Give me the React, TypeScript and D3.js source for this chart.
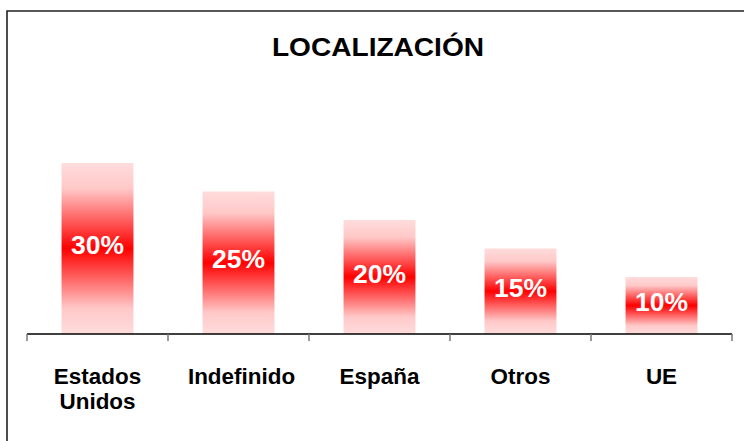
import React from "react";
import * as d3 from "d3";

const categories: string[][] = [["Estados", "Unidos"], ["Indefinido"], ["España"], ["Otros"], ["UE"]];
const values: number[] = [30, 25, 20, 15, 10];
const labels: string[] = ["30%", "25%", "20%", "15%", "10%"];
const title = "LOCALIZACIÓN";

const W = 744, H = 441;
const axisLeft = 27, axisRight = 732, axisY = 334;
const font = "'Liberation Sans', Arial, sans-serif";

export default function App() {
  const x = d3.scaleBand<number>().domain(d3.range(values.length)).range([axisLeft, axisRight]).paddingInner(0.49).paddingOuter(0.245);
  const y = d3.scaleLinear().domain([0, 30]).range([axisY, 163]);
  const step = (axisRight - axisLeft) / values.length;
  const ticks = d3.range(values.length + 1).map(i => axisLeft + i * step);
  return (
    <svg width={W} height={H} style={{ position: "absolute", left: 0, top: 0, background: "#fff" }}>
      <defs>
        <linearGradient id="barGrad" x1="0" y1="0" x2="0" y2="1">
          <stop offset="0" stopColor="#FFDCDC" />
          <stop offset="0.15" stopColor="#FFC8C8" />
          <stop offset="0.5" stopColor="#FF0000" />
          <stop offset="0.85" stopColor="#FFC8C8" />
          <stop offset="1" stopColor="#FFDCDC" />
        </linearGradient>
      </defs>
      <rect x={0} y={0} width={W} height={H} fill="#fff" />
      <path d={`M7,${H + 2} V11 H${W + 2}`} fill="none" stroke="#222" strokeWidth={1.6} />
      <g transform={`translate(378,56) scale(1.08,1)`}>
        <text textAnchor="middle" fontFamily={font} fontWeight="bold" fontSize={26} fill="#000">{title}</text>
      </g>
      {values.map((v, i) => {
        const bx = x(i)!;
        const bw = x.bandwidth();
        const top = y(v);
        const mid = (top + axisY) / 2;
        return (
          <g key={i}>
            <rect x={bx} y={top} width={bw} height={axisY - top} fill="url(#barGrad)" />
            <g transform={`translate(${bx + bw / 2},${mid + 5.5}) scale(1.06,1)`}>
              <text textAnchor="middle" fontFamily={font} fontWeight="bold" fontSize={25} fill="#fff">{labels[i]}</text>
            </g>
          </g>
        );
      })}
      <line x1={axisLeft} x2={axisRight} y1={axisY} y2={axisY} stroke="#000" strokeWidth={1.5} />
      {ticks.map((t, i) => (
        <line key={i} x1={t} x2={t} y1={axisY} y2={axisY + 7} stroke="#777" strokeWidth={1.5} />
      ))}
      {categories.map((lines, i) => (
        <g key={i} transform={`translate(${x(i)! + x.bandwidth() / 2 + (i === 1 ? 3 : 0)},384) scale(1.02,1)`}>
          <text textAnchor="middle" fontFamily={font} fontWeight="bold" fontSize={22} fill="#000">
            {lines.map((l, j) => (
              <tspan key={j} x={0} dy={j === 0 ? 0 : 25}>{l}</tspan>
            ))}
          </text>
        </g>
      ))}
    </svg>
  );
}
